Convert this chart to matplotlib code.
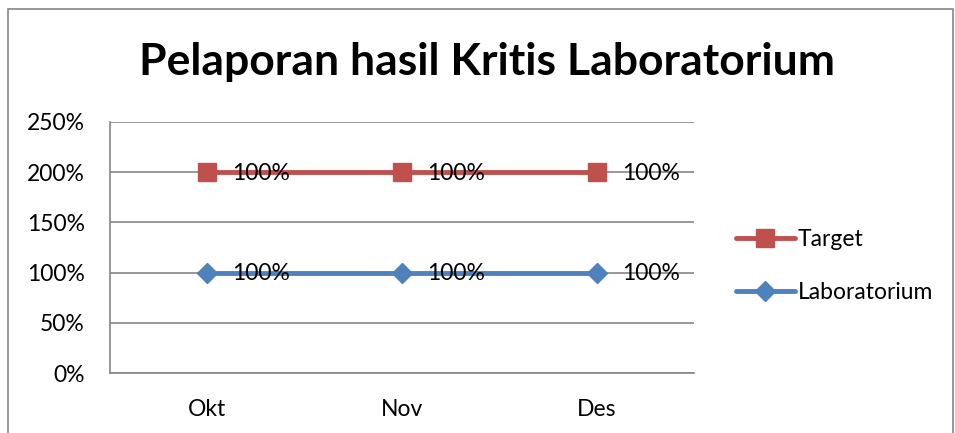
import matplotlib.pyplot as plt
from matplotlib.patches import Rectangle
from matplotlib.ticker import FuncFormatter

months = ["Okt", "Nov", "Des"]
laboratorium = [1.0, 1.0, 1.0]
target = [1.0, 1.0, 1.0]

red = "#C0504D"
blue = "#4F81BD"
grid_col = "#868686"

plt.rcParams['font.family'] = ['Lato', 'DejaVu Sans']

fig = plt.figure(figsize=(9.55, 4.33), dpi=100)
fig.patches.append(Rectangle((0.008, -0.01), 0.99, 0.99, transform=fig.transFigure,
                             fill=False, edgecolor=grid_col, linewidth=1.2))

W, H = 955, 433
ax = fig.add_axes([110 / W, 1 - 373 / H, 584 / W, 251 / H])

x = [i + 0.5 for i in range(len(months))]
# stacked line chart: target sits on top of laboratorium
stacked_target = [a + b for a, b in zip(laboratorium, target)]

ax.plot(x, stacked_target, color=red, linewidth=3.5, marker="s", markersize=13,
        label="Target", solid_capstyle="round")
ax.plot(x, laboratorium, color=blue, linewidth=3.5, marker="D", markersize=10,
        label="Laboratorium", solid_capstyle="round")

for xi, yv, v in zip(x, stacked_target, target):
    ax.annotate(f"{v:.0%}", (xi, yv), xytext=(18, -1), textcoords="offset points",
                va="center", ha="left", fontsize=16.5)
for xi, yv, v in zip(x, laboratorium, laboratorium):
    ax.annotate(f"{v:.0%}", (xi, yv), xytext=(18, -1), textcoords="offset points",
                va="center", ha="left", fontsize=16.5)

ax.set_xlim(0, 3)
ax.set_ylim(0, 2.5)
ax.set_yticks([0, 0.5, 1.0, 1.5, 2.0, 2.5])
ax.yaxis.set_major_formatter(FuncFormatter(lambda v, p: f"{v:.0%}"))
ax.set_xticks(x)
ax.set_xticklabels(months)
ax.tick_params(axis="both", length=0, labelsize=16.5)
ax.tick_params(axis="x", pad=19)
ax.tick_params(axis="y", pad=18)
ax.grid(axis="y", color=grid_col, linewidth=1.2)
ax.set_axisbelow(True)
for side in ["top", "right"]:
    ax.spines[side].set_visible(False)
for side in ["left", "bottom"]:
    ax.spines[side].set_color(grid_col)
    ax.spines[side].set_linewidth(1.2)

fig.text(487 / W, 1 - 62 / H, "Pelaporan hasil Kritis Laboratorium", ha="center", va="center",
         fontsize=32, fontweight="bold")

fig.legend(loc="center left", bbox_to_anchor=(715 / W, 1 - 266 / H), frameon=False,
           fontsize=16.5, handlelength=2.6, handletextpad=0.1, labelspacing=1.4)

fig.savefig("out.png", dpi=100)
